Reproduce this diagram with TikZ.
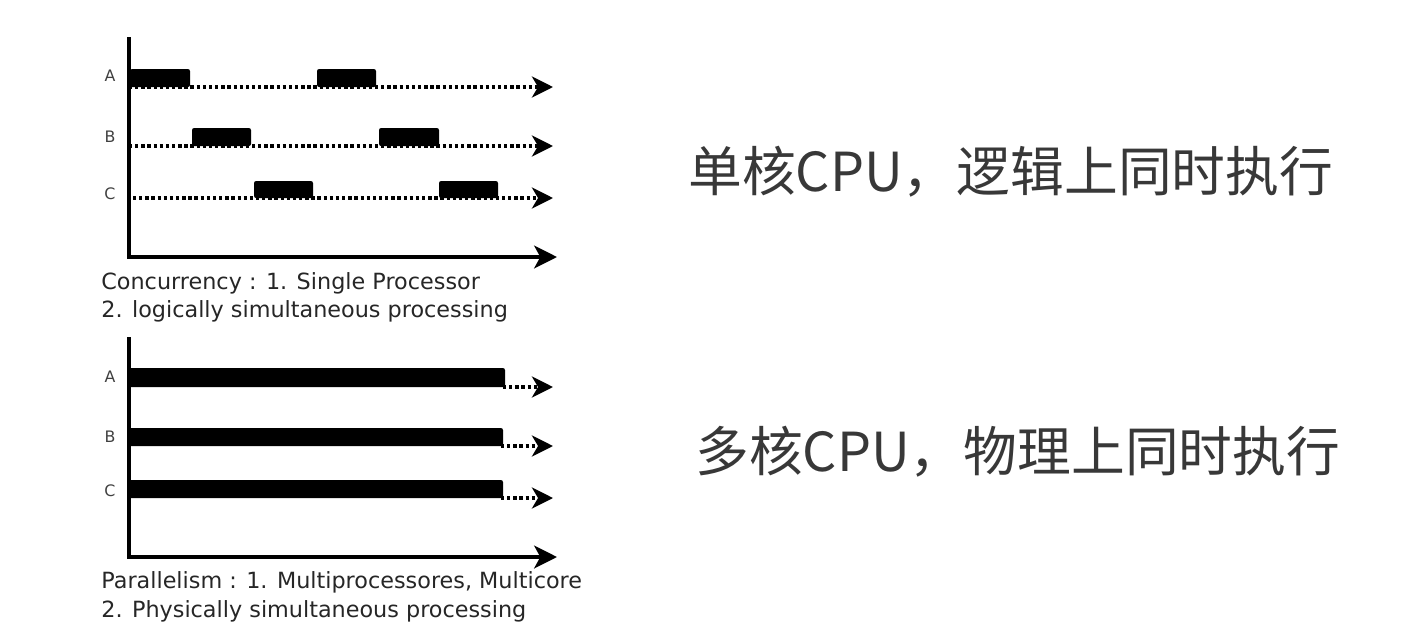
\documentclass[tikz,border=0pt]{standalone}
\usepackage{fontspec}
\setmainfont{DejaVu Sans}
\newfontfamily\cjk{Noto Sans CJK SC}
\usetikzlibrary{arrows.meta}

\begin{document}
\begin{tikzpicture}[x=0.02cm, y=-0.02cm,
  axis/.style={line width=2pt, -{Stealth[length=13pt,width=13pt,inset=3.5pt]}},
  track/.style={line width=1.9pt, dash pattern=on 1.9pt off 1.6pt, -{Stealth[length=12pt,width=12pt,inset=3.5pt]}},
  job/.style={fill=black, rounded corners=1.2pt},
  rowlabel/.style={font=\fontsize{9}{10}\selectfont, text=black!75},
  caption/.style={font=\fontsize{12.7}{14}\selectfont, text=black!85, anchor=base west, inner sep=0pt},
  slogan/.style={font=\cjk\fontsize{30.6}{33}\selectfont, text=black!78, anchor=west, inner sep=0pt}]
  \useasboundingbox (0,0) rectangle (1418,643);

  % Concurrency: one core, jobs take turns
  \draw[axis] (129,37) -- (129,257) -- (557,257);
  \draw[track] (129,87) -- (553,87);
  \draw[track] (129,146) -- (553,146);
  \draw[track] (133,198) -- (553,198);
  \fill[job] (130,69) rectangle (190,87);
  \fill[job] (317,69) rectangle (376,87);
  \fill[job] (192,128) rectangle (251,146);
  \fill[job] (379,128) rectangle (439,146);
  \fill[job] (254,181) rectangle (313,198);
  \fill[job] (439,181) rectangle (498,198);
  \node[rowlabel] (ca) at (110,76) {A};
  \node[rowlabel] (cb) at (110,137) {B};
  \node[rowlabel] (cc) at (110,194) {C};
  \node[caption] (concur1) at (101,289) {Concurrency : 1. Single Processor};
  \node[caption] (concur2) at (101,317) {2. logically simultaneous processing};

  % Parallelism: several cores, jobs run together
  \draw[axis] (129,337) -- (129,557) -- (557,557);
  \draw[track] (503,387) -- (553,387);
  \draw[track] (501,446) -- (553,446);
  \draw[track] (501,498) -- (553,498);
  \fill[job] (129,368) rectangle (505,387);
  \fill[job] (129,428) rectangle (503,446);
  \fill[job] (129,480) rectangle (503,498);
  \node[rowlabel] (pa) at (110,377) {A};
  \node[rowlabel] (pb) at (110,437) {B};
  \node[rowlabel] (pc) at (110,491) {C};
  \node[caption] (para1) at (101,588) {Parallelism : 1. Multiprocessores, Multicore};
  \node[caption] (para2) at (101,617) {2. Physically simultaneous processing};

  % Chinese notes
  \node[slogan] (single) at (688,172) {单核CPU，逻辑上同时执行};
  \node[slogan] (multi) at (695,452) {多核CPU，物理上同时执行};
\end{tikzpicture}
\end{document}
